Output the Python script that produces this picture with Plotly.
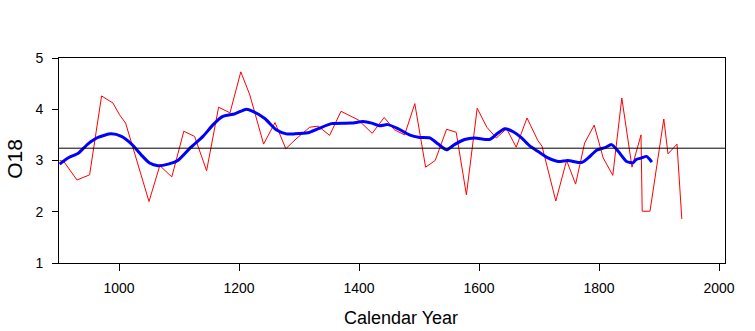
import plotly.graph_objects as go

# Raw O18 series (calendar year, value)
raw_years = [901, 908, 930, 951, 971, 990, 1001, 1011, 1050, 1068, 1088, 1108, 1126,
             1146, 1166, 1185, 1203, 1218, 1241, 1260, 1278, 1295, 1318, 1332, 1351,
             1370, 1399, 1422, 1442, 1459, 1476, 1493, 1511, 1527, 1546, 1562, 1579,
             1597, 1613, 1629, 1646, 1662, 1680, 1698, 1705, 1728, 1746, 1761, 1776,
             1792, 1807, 1823, 1838, 1855, 1870, 1872, 1885, 1908, 1915, 1930, 1938]
raw_o18 = [3.00, 2.98, 2.62, 2.72, 4.26, 4.12, 3.89, 3.73, 2.20, 2.90, 2.68, 3.57, 3.47,
           2.80, 4.04, 3.93, 4.73, 4.28, 3.32, 3.74, 3.23, 3.42, 3.65, 3.67, 3.49,
           3.96, 3.79, 3.53, 3.84, 3.60, 3.50, 4.11, 2.87, 3.00, 3.61, 3.55, 2.33,
           4.02, 3.65, 3.44, 3.62, 3.26, 3.83, 3.39, 3.28, 2.21, 3.00, 2.54, 3.34,
           3.69, 3.05, 2.71, 4.22, 2.87, 3.50, 2.01, 2.01, 3.81, 3.13, 3.32, 1.86]

# Smoothed curve
smooth_years = [901, 915, 932, 948, 965, 987, 1004, 1021, 1037, 1051, 1065, 1082, 1098,
                1120, 1140, 1157, 1173, 1193, 1212, 1223, 1243, 1262, 1279, 1293, 1315,
                1332, 1354, 1387, 1407, 1421, 1434, 1448, 1465, 1484, 1501, 1518, 1532,
                1546, 1559, 1576, 1593, 1618, 1632, 1643, 1657, 1670, 1684, 1698, 1715,
                1732, 1748, 1771, 1782, 1796, 1810, 1821, 1832, 1846, 1857, 1862, 1871,
                1879, 1884, 1888]
smooth_o18 = [2.93, 3.05, 3.14, 3.32, 3.45, 3.52, 3.47, 3.32, 3.11, 2.95, 2.90, 2.93, 3.00,
              3.26, 3.47, 3.70, 3.86, 3.91, 4.00, 3.96, 3.82, 3.60, 3.52, 3.52, 3.54,
              3.62, 3.72, 3.73, 3.76, 3.73, 3.68, 3.70, 3.62, 3.50, 3.45, 3.44, 3.32,
              3.21, 3.31, 3.41, 3.44, 3.41, 3.54, 3.62, 3.56, 3.45, 3.29, 3.18, 3.05,
              2.98, 3.00, 2.96, 3.05, 3.20, 3.25, 3.31, 3.18, 2.98, 2.96, 3.02, 3.05,
              3.08, 3.03, 2.97]

mean_o18 = 3.24
x_ticks = [1000, 1200, 1400, 1600, 1800, 2000]
y_ticks = [1, 2, 3, 4, 5]

font_family = "Liberation Sans, Arial, sans-serif"

fig = go.Figure()
fig.add_trace(go.Scatter(x=raw_years, y=raw_o18, mode="lines",
                         line=dict(color="#ff0000", width=1), showlegend=False))
fig.add_trace(go.Scatter(x=smooth_years, y=smooth_o18, mode="lines",
                         line=dict(color="#0000ff", width=3, shape="spline", smoothing=0.6),
                         showlegend=False))

# Horizontal reference line at the series mean
fig.add_shape(type="line", xref="paper", x0=0, x1=1, yref="y", y0=mean_o18, y1=mean_o18,
              line=dict(color="black", width=1))

fig.update_layout(
    width=755, height=331,
    margin=dict(l=59, r=30, t=58, b=68),
    paper_bgcolor="white", plot_bgcolor="white",
    font=dict(family=font_family, size=14, color="black"),
    xaxis=dict(range=[900, 2010], tickvals=x_ticks, ticks="outside", ticklen=7,
               tickcolor="black", showgrid=False, zeroline=False,
               showline=True, linecolor="black", linewidth=1, mirror=True,
               tickfont=dict(size=14), ticklabelstandoff=5),
    yaxis=dict(range=[1, 5], tickvals=y_ticks, ticks="outside", ticklen=6,
               tickcolor="black", showgrid=False, zeroline=False,
               showline=True, linecolor="black", linewidth=1, mirror=True,
               tickfont=dict(size=14), ticklabelstandoff=6),
    annotations=[
        dict(text="Calendar Year", xref="paper", yref="paper", x=0.5135, y=-0.27,
             xanchor="center", yanchor="middle", showarrow=False,
             font=dict(size=18, family=font_family)),
        dict(text="O18", xref="paper", yref="paper", x=-0.067, y=0.51,
             xanchor="center", yanchor="middle", showarrow=False, textangle=-90,
             font=dict(size=21, family=font_family)),
    ],
)

fig.write_html("out.html")
